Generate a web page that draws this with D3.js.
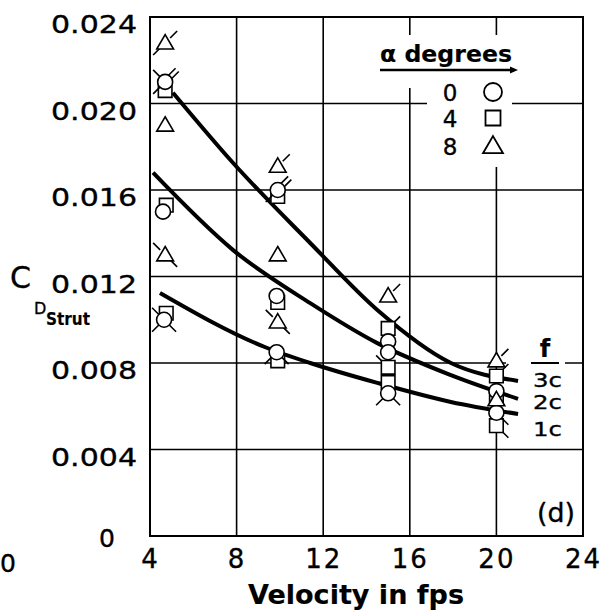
<!DOCTYPE html>
<html><head><meta charset="utf-8">
<script src="https://cdn.jsdelivr.net/npm/d3@7"></script>
<style>body{margin:0;background:#fff}svg{display:block}</style>
</head><body>
<svg id="c" width="612" height="616"></svg>
<script>
// ---- data ----
const xTickValues = [4, 8, 12, 16, 20, 24];
const xTickLabels = ["4", "8", "12", "16", "20", "24"];
const yTickValues = [0.004, 0.008, 0.012, 0.016, 0.020, 0.024];
const yTickLabels = ["0.004", "0.008", "0.012", "0.016", "0.020", "0.024"];
const gridX = [8, 12, 16, 20];
const gridY = [0.004, 0.008, 0.012, 0.016, 0.020];

// faired curves, labelled by fin length f
const curveLabels = ["3c", "2c", "1c"];
const curve3cV  = [5.06, 7.84, 11.4, 14.5, 17.9, 21.0];
const curve3cCd = [0.0205, 0.01725, 0.01355, 0.01045, 0.0080, 0.00717];
const curve2cV  = [4.14, 7.84, 11.4, 14.5, 17.9, 21.0];
const curve2cCd = [0.0168, 0.01322, 0.01077, 0.00892, 0.00744, 0.00634];
const curve1cV  = [4.46, 9.3, 11.4, 14.5, 17.9, 21.0];
const curve1cCd = [0.01124, 0.00874, 0.0080, 0.00708, 0.0062, 0.00564];

// test points, alpha = 0 (circles), 4 (squares), 8 (triangles)
const alphaLabels = ["0", "4", "8"];
const a0V     = [4.7, 4.6, 4.65, 9.9, 9.85, 9.85, 15.0, 15.0, 15.0, 20.0, 20.0];
const a0Cd    = [0.0210, 0.0150, 0.0100, 0.0160, 0.0111, 0.0085, 0.0090, 0.0085, 0.0066, 0.0067, 0.0057];
const a0Flags = ["ur2 ul ll", "", "ul ll lr", "ur2 ll", "", "ll lr", "", "", "ll lr", "", "lr"];
const a4V     = [4.7, 4.75, 4.75, 9.9, 9.9, 9.9, 15.0, 15.0, 15.0, 20.0, 20.0, 20.0];
const a4Cd    = [0.0206, 0.0153, 0.0103, 0.0157, 0.0108, 0.0081, 0.0096, 0.0078, 0.0071, 0.0074, 0.0065, 0.0051];
const a4Flags = ["", "", "", "", "", "", "ur", "ul", "", "ur", "", "lr"];
const a8V     = [4.7, 4.7, 4.7, 9.9, 9.9, 9.9, 15.0, 20.0, 20.0];
const a8Cd    = [0.0228, 0.0190, 0.0130, 0.0171, 0.0130, 0.0099, 0.0111, 0.0081, 0.0063];
const a8Flags = ["ur ll", "", "ul lr", "ur", "", "ul lr", "ur", "ur", ""];

// ---- drawing ----
const svg = d3.select("#c");
const x = d3.scaleLinear().domain([4, 24]).range([150, 583]);
const y = d3.scaleLinear().domain([0, 0.024]).range([536, 17]);
const FONT = "'DejaVu Sans', 'Liberation Sans', sans-serif";
function txt(sel, size, bold) {
  return sel.style("font-family", FONT).style("font-size", size + "px")
    .style("font-weight", bold ? "bold" : "normal").attr("fill", "#000")
    .attr("stroke", "#000").attr("stroke-width", bold ? 0.15 : 0.35);
}

// grid
svg.append("g").selectAll("line").data(gridX).join("line")
  .attr("x1", d => x(d)).attr("x2", d => x(d)).attr("y1", y(0)).attr("y2", y(0.024))
  .attr("stroke", "#000").attr("stroke-width", 1.6);
svg.append("g").selectAll("line").data(gridY).join("line")
  .attr("x1", x(4)).attr("x2", x(24)).attr("y1", d => y(d)).attr("y2", d => y(d))
  .attr("stroke", "#000").attr("stroke-width", 1.6);
// gaps in the grid around the lettering
const gaps = [[380, 35, 140, 53], [427, 88, 85, 79], [506, 356, 25, 12], [559, 356, 6, 12]];
svg.append("g").selectAll("rect").data(gaps).join("rect")
  .attr("x", d => d[0]).attr("y", d => d[1]).attr("width", d => d[2]).attr("height", d => d[3])
  .attr("fill", "#fff");
// frame
svg.append("rect").attr("x", x(4)).attr("y", y(0.024)).attr("width", x(24) - x(4)).attr("height", y(0) - y(0.024))
  .attr("fill", "none").attr("stroke", "#000").attr("stroke-width", 2);

// axes labels
const yAxis = d3.axisLeft(y).tickValues(yTickValues).tickFormat((d, i) => yTickLabels[i]).tickSize(0).tickPadding(13);
const gy = svg.append("g").attr("transform", `translate(${x(4)},0)`).call(yAxis);
gy.select(".domain").remove();
txt(gy.selectAll("text"), 25).attr("dy", "0.62em").attr("textLength", 86).attr("lengthAdjust", "spacingAndGlyphs");

const xAxis = d3.axisBottom(x).tickValues(xTickValues).tickFormat((d, i) => xTickLabels[i]).tickSize(0).tickPadding(14);
const gx = svg.append("g").attr("transform", `translate(0,${y(0)})`).call(xAxis);
gx.select(".domain").remove();
txt(gx.selectAll("text"), 26).attr("letter-spacing", 2);

txt(svg.append("text"), 25).attr("x", 107).attr("y", 547).attr("text-anchor", "middle").text("0");
txt(svg.append("text"), 25).attr("x", 8).attr("y", 572).attr("text-anchor", "middle").text("0");

txt(svg.append("text"), 26, true).attr("x", 356).attr("y", 604).attr("text-anchor", "middle")
  .attr("textLength", 216).attr("lengthAdjust", "spacingAndGlyphs").text("Velocity in fps");

txt(svg.append("text"), 30).attr("x", 10).attr("y", 288).text("C");
txt(svg.append("text"), 16).attr("x", 34).attr("y", 314).text("D");
txt(svg.append("text"), 18, true).attr("x", 46).attr("y", 325).attr("textLength", 44)
  .attr("lengthAdjust", "spacingAndGlyphs").text("Strut");

// curves
const line = d3.line().x(d => x(d[0])).y(d => y(d[1])).curve(d3.curveMonotoneX);
const curves = [d3.zip(curve3cV, curve3cCd), d3.zip(curve2cV, curve2cCd), d3.zip(curve1cV, curve1cCd)];
svg.append("g").selectAll("path").data(curves).join("path")
  .attr("d", line).attr("fill", "none").attr("stroke", "#000").attr("stroke-width", 4).attr("stroke-linecap", "butt");

// markers
function shapePath(kind, s) {
  if (kind === "circle") return d3.symbol(d3.symbolCircle, Math.PI * s * s)();
  if (kind === "square") return `M${-s},${-s}H${s}V${s}H${-s}Z`;
  const h = s * 1.8;
  return `M0,${-h * 0.58}L${s * 1.05},${h * 0.42}L${-s * 1.05},${h * 0.42}Z`;
}
const flagDirs = {ur: [1, -1], ul: [-1, -1], ll: [-1, 1], lr: [1, 1]};
function drawSeries(vs, cds, flags, kind, size) {
  const g = svg.append("g");
  const pts = d3.zip(vs, cds, flags);
  const m = g.selectAll("g").data(pts).join("g")
    .attr("transform", d => `translate(${x(d[0])},${y(d[1])})`);
  m.each(function(d) {
    const el = d3.select(this);
    d[2].split(" ").filter(Boolean).forEach(code => {
      const dir = flagDirs[code.slice(0, 2)];
      const n = code.length > 2 ? 2 : 1;
      for (let k = 0; k < n; k++) {
        const off = (k - (n - 1) / 2) * 4.5;
        const px = -dir[1] * off * 0.707, py = dir[0] * off * 0.707;
        el.append("line")
          .attr("x1", dir[0] * 5 + px).attr("y1", dir[1] * 5 + py)
          .attr("x2", dir[0] * 12 + px).attr("y2", dir[1] * 12 + py)
          .attr("stroke", "#000").attr("stroke-width", 1.6);
      }
    });
    el.append("path").attr("d", shapePath(kind, size)).attr("fill", "#fff")
      .attr("stroke", "#000").attr("stroke-width", 1.6);
  });
}
drawSeries(a4V, a4Cd, a4Flags, "square", 6.8);
drawSeries(a0V, a0Cd, a0Flags, "circle", 7.5);
drawSeries(a8V, a8Cd, a8Flags, "triangle", 8);

// legend
txt(svg.append("text"), 23, true).attr("x", 446).attr("y", 62).attr("text-anchor", "middle")
  .attr("textLength", 132).attr("lengthAdjust", "spacingAndGlyphs").text("\u03b1 degrees");
svg.append("line").attr("x1", 380).attr("x2", 512).attr("y1", 70).attr("y2", 70)
  .attr("stroke", "#000").attr("stroke-width", 2.5);
svg.append("path").attr("d", "M510,66.5L518,70L510,73.5Z").attr("fill", "#000");
const legY = [92, 118, 146];
const legKinds = ["circle", "square", "triangle"];
const legSizes = [9, 7.5, 9.5];
alphaLabels.forEach((a, i) => {
  txt(svg.append("text"), 23).attr("x", 450).attr("y", legY[i] + 8.5).attr("text-anchor", "middle").text(a);
  svg.append("path").attr("transform", `translate(493,${legY[i]})`)
    .attr("d", shapePath(legKinds[i], legSizes[i])).attr("fill", "#fff")
    .attr("stroke", "#000").attr("stroke-width", 1.8);
});

// f labels
txt(svg.append("text"), 24, true).attr("x", 545).attr("y", 357).attr("text-anchor", "middle").text("f");
svg.append("line").attr("x1", 531).attr("x2", 559).attr("y1", 363).attr("y2", 363)
  .attr("stroke", "#000").attr("stroke-width", 2);
const fLabelY = [387, 409, 436];
curveLabels.forEach((t, i) => {
  txt(svg.append("text"), 20).attr("x", 533).attr("y", fLabelY[i]).attr("textLength", 29)
    .attr("lengthAdjust", "spacingAndGlyphs").text(t);
});
txt(svg.append("text"), 26).attr("x", 556).attr("y", 522).attr("text-anchor", "middle")
  .attr("textLength", 38).attr("lengthAdjust", "spacingAndGlyphs").text("(d)");
</script>
</body></html>
